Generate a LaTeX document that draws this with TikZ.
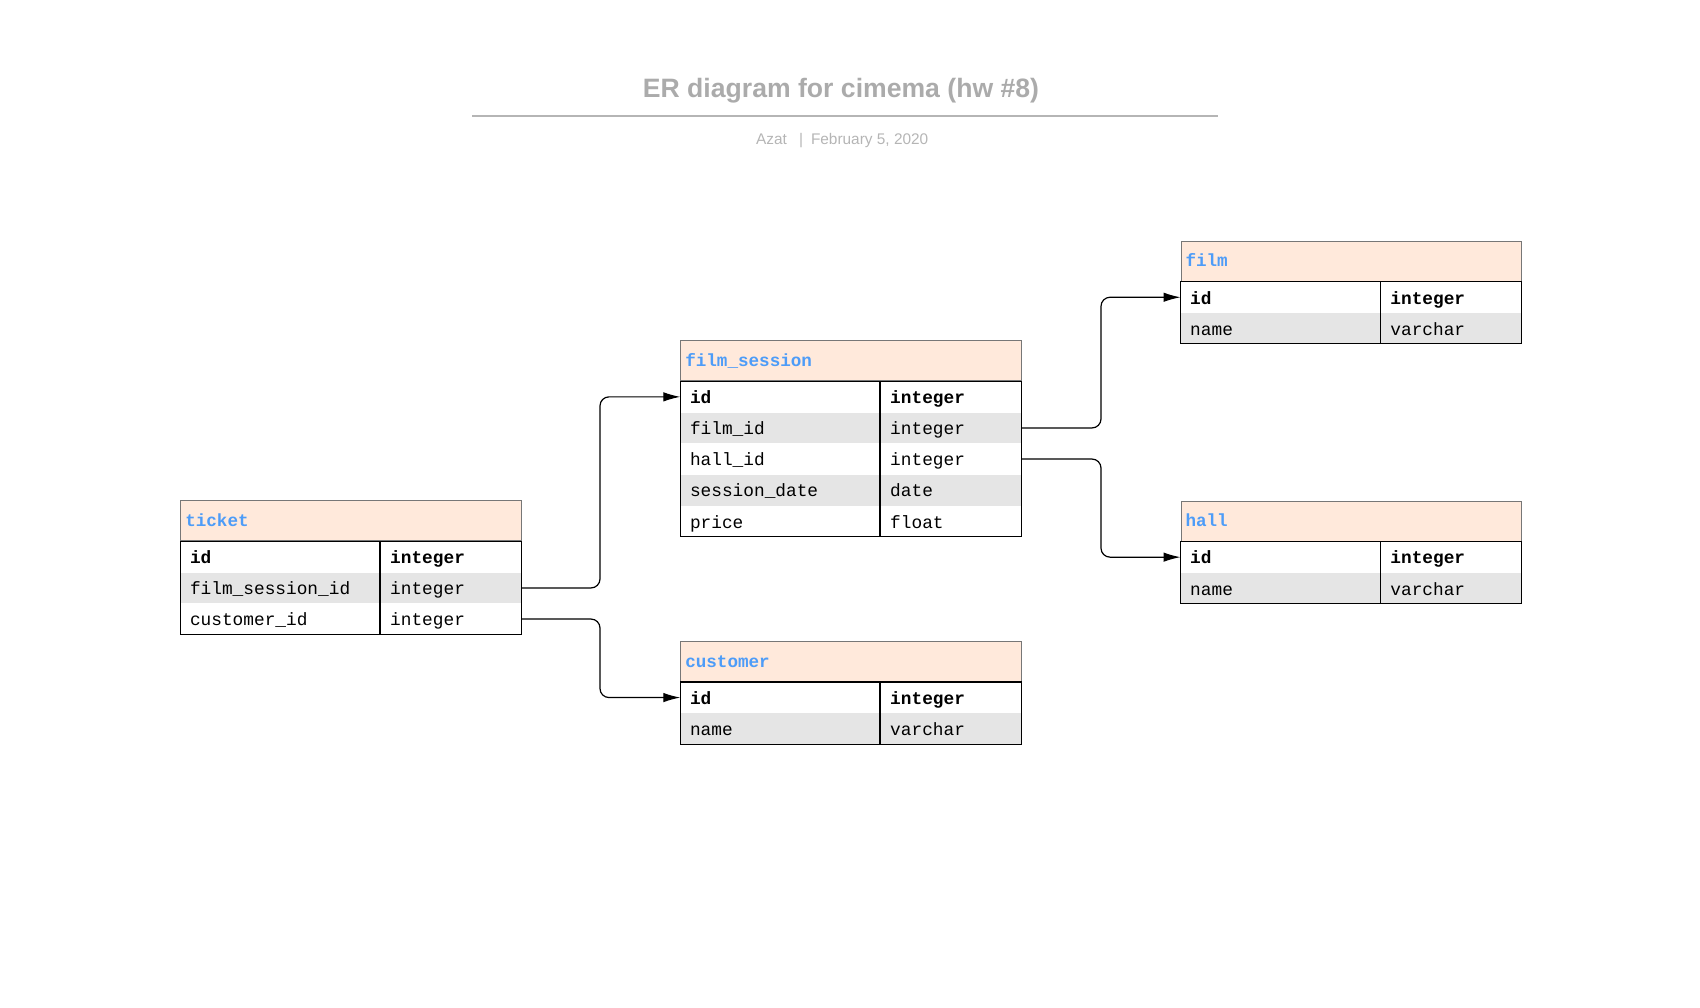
\documentclass[tikz,border=0pt]{standalone}
\usepackage{fontspec}
\setmainfont{Liberation Sans}
\setmonofont{Liberation Mono}
\usepackage{tikz}
\usetikzlibrary{positioning,arrows.meta}

\definecolor{headfill}{HTML}{FFE9DB}
\definecolor{headline}{HTML}{777777}
\definecolor{headtext}{HTML}{4D9CF8}
\definecolor{rowgray}{HTML}{E5E5E5}
\definecolor{titlegray}{HTML}{ABABAB}
\definecolor{subgray}{HTML}{B5B5B5}

\begin{document}
\begin{tikzpicture}[x=1pt, y=-1pt, >={Latex[length=17pt,width=9.5pt]}]
\tikzstyle{head} = [draw=headline, fill=headfill, line width=1pt, anchor=north west, minimum height=40pt, text width=340.3pt-9pt, inner xsep=4.5pt, inner ysep=0pt, align=left, text height=11.5pt, text depth=0pt, text=headtext, font=\fontsize{17.6}{20}\ttfamily\bfseries]
\tikzstyle{keycol} = [minimum height=30.7pt, text width=199.3pt-19pt, inner xsep=9.5pt, inner ysep=0pt, align=left, text height=13.6pt, text depth=0pt, font=\fontsize{17.8}{20}\ttfamily]
\tikzstyle{typecol} = [keycol, text width=141pt-20pt, inner xsep=10pt]
\tikzstyle{pk} = [font=\fontsize{17.8}{20}\ttfamily\bfseries]
\tikzstyle{shade} = [fill=rowgray]
\tikzstyle{body} = [draw=black, line width=1.1pt]
\tikzstyle{fk} = [->, line width=1.2pt, rounded corners=9pt]

\useasboundingbox (0,0) rectangle (1700,1007);

% title and rule
\node[anchor=base, inner sep=0pt, text=titlegray, font=\fontsize{26.6}{30}\selectfont\bfseries] (title) at (841,97) {ER diagram for cimema (hw \#8)};
\coordinate (ruleL) at (472,115.7);
\coordinate (ruleR) at (1218,115.7);
\draw[subgray, line width=2pt] (ruleL) -- (ruleR);
\node[anchor=base west, inner sep=0pt, text=subgray, font=\fontsize{15.4}{18}\selectfont] (byline) at (756,144.5) {Azat\hspace{12pt}|\hspace{8pt}February 5, 2020};

% ticket
\node[head] (tk) at (180.3,500.3) {ticket};
\node[keycol, pk, below right=0pt of tk.south west] (tk-id) {id};
\node[typecol, pk, right=0pt of tk-id] (tk-id-t) {integer};
\node[keycol, shade, below=0pt of tk-id] (tk-fs) {film\_session\_id};
\node[typecol, shade, right=0pt of tk-fs] (tk-fs-t) {integer};
\node[keycol, below=0pt of tk-fs] (tk-cu) {customer\_id};
\node[typecol, right=0pt of tk-cu] (tk-cu-t) {integer};
\draw[body] (tk-id.north west) rectangle (tk-cu-t.south east);
\draw[body] (tk-id-t.north west) -- (tk-cu-t.south west);

% film_session
\node[head] (fs) at (680.3,340.3) {film\_session};
\node[keycol, pk, below right=0pt of fs.south west] (fs-id) {id};
\node[typecol, pk, right=0pt of fs-id] (fs-id-t) {integer};
\node[keycol, shade, below=0pt of fs-id] (fs-film) {film\_id};
\node[typecol, shade, right=0pt of fs-film] (fs-film-t) {integer};
\node[keycol, below=0pt of fs-film] (fs-hall) {hall\_id};
\node[typecol, right=0pt of fs-hall] (fs-hall-t) {integer};
\node[keycol, shade, below=0pt of fs-hall] (fs-date) {session\_date};
\node[typecol, shade, right=0pt of fs-date] (fs-date-t) {date};
\node[keycol, below=0pt of fs-date] (fs-price) {price};
\node[typecol, right=0pt of fs-price] (fs-price-t) {float};
\draw[body] (fs-id.north west) rectangle (fs-price-t.south east);
\draw[body] (fs-id-t.north west) -- (fs-price-t.south west);

% customer
\node[head] (cu) at (680.3,641) {customer};
\node[keycol, pk, below right=0pt of cu.south west] (cu-id) {id};
\node[typecol, pk, right=0pt of cu-id] (cu-id-t) {integer};
\node[keycol, shade, below=0pt of cu-id] (cu-name) {name};
\node[typecol, shade, right=0pt of cu-name] (cu-name-t) {varchar};
\draw[body] (cu-id.north west) rectangle (cu-name-t.south east);
\draw[body] (cu-id-t.north west) -- (cu-name-t.south west);

% film
\node[head] (fm) at (1180.5,240.7) {film};
\node[keycol, pk, below right=0pt of fm.south west] (fm-id) {id};
\node[typecol, pk, right=0pt of fm-id] (fm-id-t) {integer};
\node[keycol, shade, below=0pt of fm-id] (fm-name) {name};
\node[typecol, shade, right=0pt of fm-name] (fm-name-t) {varchar};
\draw[body] (fm-id.north west) rectangle (fm-name-t.south east);
\draw[body] (fm-id-t.north west) -- (fm-name-t.south west);

% hall
\node[head] (hl) at (1180.5,500.6) {hall};
\node[keycol, pk, below right=0pt of hl.south west] (hl-id) {id};
\node[typecol, pk, right=0pt of hl-id] (hl-id-t) {integer};
\node[keycol, shade, below=0pt of hl-id] (hl-name) {name};
\node[typecol, shade, right=0pt of hl-name] (hl-name-t) {varchar};
\draw[body] (hl-id.north west) rectangle (hl-name-t.south east);
\draw[body] (hl-id-t.north west) -- (hl-name-t.south west);

% foreign keys
\coordinate (lbus) at (600,0);
\coordinate (rbus) at (1101,0);
\draw[fk] (tk-fs-t.east) -- (tk-fs-t.east -| lbus) |- (fs-id.west);
\draw[fk] (tk-cu-t.east) -- (tk-cu-t.east -| lbus) |- (cu-id.west);
\draw[fk] (fs-film-t.east) -- (fs-film-t.east -| rbus) |- (fm-id.west);
\draw[fk] (fs-hall-t.east) -- (fs-hall-t.east -| rbus) |- (hl-id.west);

\end{tikzpicture}
\end{document}
